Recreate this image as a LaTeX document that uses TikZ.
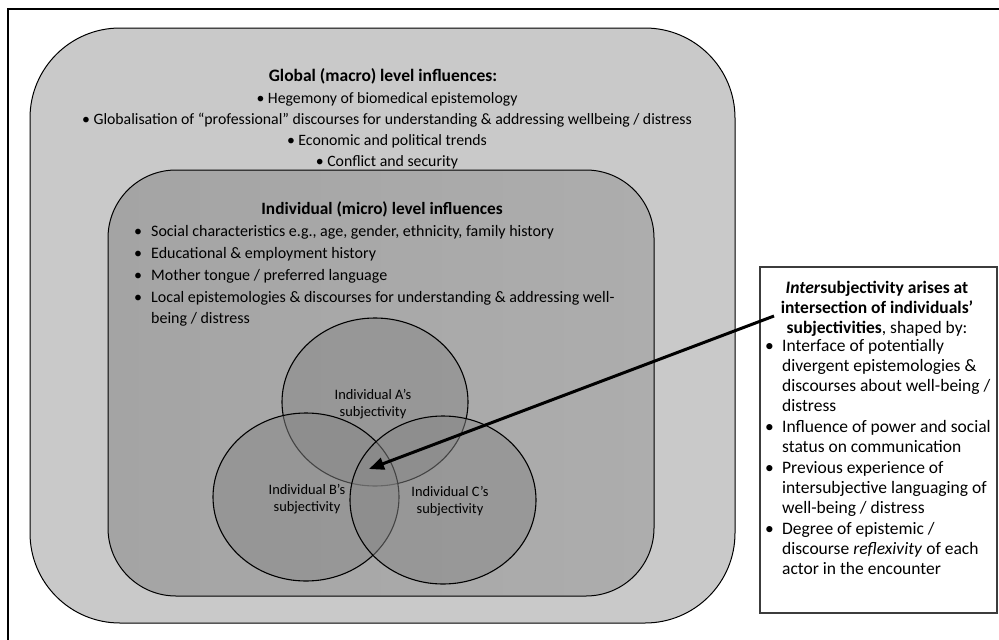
\documentclass[tikz,border=0pt]{standalone}
\usepackage{fontspec}
\setmainfont{Carlito}
\usetikzlibrary{shapes.geometric,arrows.meta}
\definecolor{outerfill}{RGB}{201,201,201}
\definecolor{innerL}{RGB}{164,164,164}
\definecolor{innerR}{RGB}{173,173,173}
\definecolor{circfill}{RGB}{135,135,135}
\definecolor{boxline}{RGB}{60,60,60}
\newcommand\bitemA{\makebox[17pt][l]{\textbullet}}
\newcommand\bcontA{\hspace*{17pt}}
\begin{document}
\begin{tikzpicture}[x=1pt,y=-1pt,
  toptxt/.style={inner sep=0pt, anchor=base, font=\fontsize{15.8}{18}\selectfont},
  tophead/.style={inner sep=0pt, anchor=base, font=\fontsize{17.5}{20}\selectfont\bfseries},
  midtxt/.style={inner sep=0pt, anchor=base west, font=\fontsize{16}{19}\selectfont},
  midhead/.style={inner sep=0pt, anchor=base, font=\fontsize{17.3}{20}\selectfont\bfseries},
  rtxt/.style={inner sep=0pt, anchor=base west, font=\fontsize{17.5}{20}\selectfont},
  rhead/.style={inner sep=0pt, anchor=base, font=\fontsize{17.5}{20}\selectfont},
  ctxt/.style={inner sep=0pt, align=center, font=\fontsize{14.4}{17}\selectfont},
  subj/.style={ellipse, draw=black, line width=1.1pt, fill=circfill, fill opacity=0.5, inner sep=0pt, minimum width=186pt, minimum height=168pt}
]
\useasboundingbox (0,0) rectangle (999,640);
\fill[white] (0,0) rectangle (999,640);
% frame
\draw[line width=2.6pt] (8,640) -- (8,9) -- (999,9);
% boxes
\node[draw=black, line width=1pt, fill=outerfill, rounded corners=90pt, minimum width=705pt, minimum height=595pt, inner sep=0pt] (outer) at (382.5,325.5) {};
\node[draw=black, line width=1pt, left color=innerL, right color=innerR, rounded corners=68pt, minimum width=546pt, minimum height=426pt, inner sep=0pt] (inner) at (381,383) {};
% global text
\node[tophead] (gh) at (383,81) {Global (macro) level influences:};
\node[toptxt] (g1) at (387,103) {\textbullet\ Hegemony of biomedical epistemology};
\node[toptxt] (g2) at (387,124) {\textbullet\ Globalisation of “professional” discourses for understanding \& addressing wellbeing / distress};
\node[toptxt] (g3) at (387,145) {\textbullet\ Economic and political trends};
\node[toptxt] (g4) at (387,166) {\textbullet\ Conflict and security};
% individual text
\node[midhead] (ih) at (382,214) {Individual (micro) level influences};
\node[midtxt] (i1) at (134,236) {\bitemA Social characteristics e.g., age, gender, ethnicity, family history};
\node[midtxt] (i2) at (134,258) {\bitemA Educational \& employment history};
\node[midtxt] (i3) at (134,280) {\bitemA Mother tongue / preferred language};
\node[midtxt] (i4) at (134,302) {\bitemA Local epistemologies \& discourses for understanding \& addressing well-};
\node[midtxt] (i5) at (134,323) {\bcontA being / distress};
% subjectivity circles
\node[subj] (ca) at (375,402) {};
\node[subj] (cb) at (306,497) {};
\node[subj] (cc) at (443,500) {};
\node[ctxt] (la) at (373,404) {Individual A’s\\subjectivity};
\node[ctxt] (lb) at (307,499) {Individual B’s\\subjectivity};
\node[ctxt] (lc) at (450,501) {Individual C’s\\subjectivity};
% right box
\node[draw=boxline, line width=1.3pt, fill=white, minimum width=237pt, minimum height=346pt, inner sep=0pt] (rb) at (878.5,440) {};
\node[rhead] (r1) at (877,293) {\textbf{\textit{Inter}subjectivity arises at}};
\node[rhead] (r2) at (877,313) {\textbf{intersection of individuals’}};
\node[rhead] (r3) at (877,333) {\textbf{subjectivities}, shaped by:};
\node[rtxt] (b1) at (765,351) {\bitemA Interface of potentially};
\node[rtxt] (b2) at (765,371) {\bcontA divergent epistemologies \&};
\node[rtxt] (b3) at (765,391) {\bcontA discourses about well-being /};
\node[rtxt] (b4) at (765,411) {\bcontA distress};
\node[rtxt] (b5) at (765,432) {\bitemA Influence of power and social};
\node[rtxt] (b6) at (765,452) {\bcontA status on communication};
\node[rtxt] (b7) at (765,473) {\bitemA Previous experience of};
\node[rtxt] (b8) at (765,493) {\bcontA intersubjective languaging of};
\node[rtxt] (b9) at (765,513) {\bcontA well-being / distress};
\node[rtxt] (b10) at (765,534) {\bitemA Degree of epistemic /};
\node[rtxt] (b11) at (765,554) {\bcontA discourse \textit{reflexivity} of each};
\node[rtxt] (b12) at (765,574) {\bcontA actor in the encounter};
% arrow
\coordinate (astart) at (774,316);
\coordinate (aend) at (369,469);
\draw[line width=3pt, -{Triangle[length=15pt,width=12pt]}] (astart) -- (aend);
\end{tikzpicture}
\end{document}
